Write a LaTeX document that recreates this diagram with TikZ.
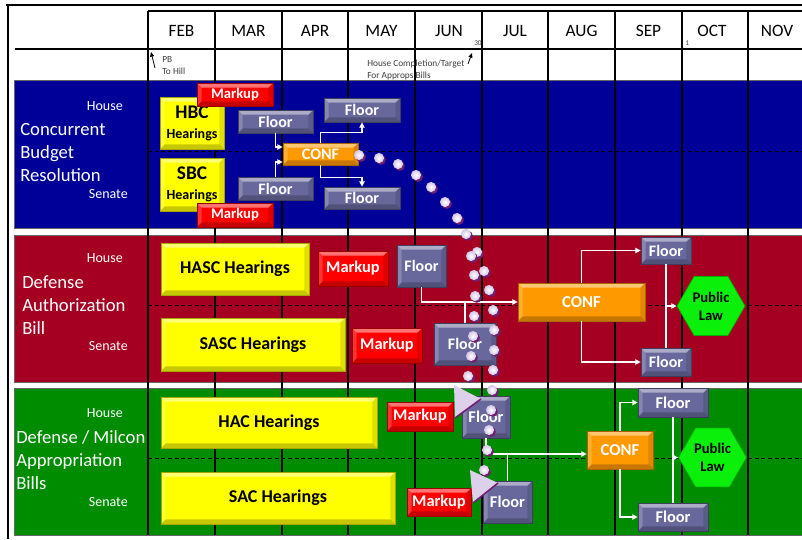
\documentclass[tikz,border=0pt]{standalone}
\usepackage{fontspec}
\setmainfont{Carlito}
\usetikzlibrary{calc,shapes.geometric,arrows.meta}

\definecolor{budgetblue}{RGB}{0,0,153}
\definecolor{authred}{RGB}{165,0,33}
\definecolor{approgreen}{RGB}{0,140,0}
\definecolor{hearyellow}{RGB}{255,255,0}
\definecolor{markred}{RGB}{255,0,0}
\definecolor{floorgray}{RGB}{104,104,156}
\definecolor{conforange}{RGB}{255,153,0}
\definecolor{lawgreen}{RGB}{10,240,10}
\definecolor{dotlav}{RGB}{212,196,230}
\definecolor{dotpurple}{RGB}{112,32,112}
\definecolor{notegray}{RGB}{60,60,60}

\newdimen\pxu \pxu=0.75pt
\newcommand{\bfs}[1]{\fontsize{#1}{#1}\bfseries\selectfont}
\def\trackdot(#1,#2){\fill[dotpurple] (#1+1.8,#2+1.8) circle (3.8pt); \shade[inner color=white, outer color=dotlav] (#1,#2) circle (3.8pt);}

\tikzset{
	bevel/.style={path picture={
		\path (path picture bounding box.north west) coordinate (bnw)
			(path picture bounding box.north east) coordinate (bne)
			(path picture bounding box.south west) coordinate (bsw)
			(path picture bounding box.south east) coordinate (bse);
		\fill[white, opacity=.45] (bnw) -- (bne) -- ([shift={(-3.5pt,-3.5pt)}]bne) -- ([shift={(3.5pt,-3.5pt)}]bnw) -- cycle;
		\fill[white, opacity=.2] (bnw) -- ([shift={(3.5pt,-3.5pt)}]bnw) -- ([shift={(3.5pt,3.5pt)}]bsw) -- (bsw) -- cycle;
		\fill[black, opacity=.22] (bsw) -- ([shift={(3.5pt,3.5pt)}]bsw) -- ([shift={(-3.5pt,3.5pt)}]bse) -- (bse) -- cycle;
		\fill[black, opacity=.12] (bne) -- (bse) -- ([shift={(-3.5pt,3.5pt)}]bse) -- ([shift={(-3.5pt,-3.5pt)}]bne) -- cycle;
	}},
	tbox/.style={rectangle, inner sep=0pt, line width=0.5pt, align=center, bevel},
	hear/.style={tbox, fill=hearyellow, draw=hearyellow!65!black, text=black},
	markup/.style={tbox, fill=markred, draw=markred!60!black, text=white},
	floor/.style={tbox, fill=floorgray, draw=floorgray!60!black, text=white},
	conf/.style={tbox, fill=conforange, draw=conforange!65!black, text=white},
	law/.style={regular polygon, regular polygon sides=6, minimum size=68\pxu, inner sep=0pt,
		fill=lawgreen, draw=lawgreen!70!black, line width=0.5pt, text=black, align=center,
		font=\fontsize{11}{13.5}\bfseries\selectfont},
	grid/.style={draw=black, line width=0.8pt},
	midline/.style={draw=black, line width=0.6pt, dash pattern=on 3pt off 2pt},
	month/.style={font=\fontsize{13}{15}\selectfont},
	bill/.style={anchor=west, align=left, inner sep=0pt, text=white, font=\fontsize{14}{17.25}\selectfont},
	chamber/.style={anchor=east, inner sep=0pt, text=white, font=\fontsize{10.5}{12}\selectfont},
	note/.style={anchor=west, align=left, text=notegray, inner sep=0pt, font=\fontsize{7}{8.5}\selectfont},
	day/.style={note, font=\fontsize{5.5}{6.5}\selectfont},
	flow/.style={draw=white, line width=0.9pt, -{Triangle[length=4pt,width=4pt]}},
	link/.style={draw=white, line width=0.9pt},
	pointer/.style={draw=black, line width=0.6pt, -{Triangle[length=3.5pt,width=3pt]}},
	playtri/.style={fill=dotlav!80!white}
}

\begin{document}
\begin{tikzpicture}[x=0.75pt,y=-0.75pt]
		%%%%% START %%%%%
		\useasboundingbox (0,0) rectangle (802,539);
		
		\draw[line width=1.5pt] (6,4.5) -- (802,4.5);
		\draw[line width=1.5pt] (7.5,4) -- (7.5,539);
		
		% the three bills
		\draw[draw=black!60, fill=budgetblue] (14,80) rectangle (802,228);
		\draw[draw=black!60, fill=authred] (14,235) rectangle (802,382);
		\draw[draw=black!60, fill=approgreen] (14,388) rectangle (802,535);
		
		\draw[midline] (148,151) -- (802,151);
		\draw[midline] (148,305) -- (802,305);
		\draw[midline] (148,458) -- (802,458);
		
		% months
		\draw[grid] (148,11) -- (802,11);
		\draw[grid] (15,49) -- (802,49);
		\draw[grid] (148,11) -- (148,535);
		\draw[grid] (215,11) -- (215,535);
		\draw[grid] (282,11) -- (282,535);
		\draw[grid] (348,11) -- (348,535);
		\draw[grid] (415,11) -- (415,535);
		\draw[grid] (482,11) -- (482,535);
		\draw[grid] (548,11) -- (548,535);
		\draw[grid] (615,11) -- (615,535);
		\draw[grid] (682,11) -- (682,535);
		\draw[grid] (748,11) -- (748,535);
		
		\node[month] (feb) at (181.5,31) {FEB};
		\node[month] (mar) at (248.5,31) {MAR};
		\node[month] (apr) at (315,31) {APR};
		\node[month] (may) at (381.5,31) {MAY};
		\node[month] (jun) at (449,31) {JUN};
		\node[month] (jul) at (515,31) {JUL};
		\node[month] (aug) at (581.5,31) {AUG};
		\node[month] (sep) at (648.5,31) {SEP};
		\node[month] (oct) at (712,31) {OCT};
		\node[month] (nov) at (777,31) {NOV};
		
		\node[day] (day30) at (474,43) {30};
		\node[day] (day1) at (685,43) {1};
		\node[note] (pb) at (162,65.5) {PB\\To Hill};
		\node[note] (target) at (367,70) {House Completion/Target\\For Approps Bills};
		\coordinate (pbtail) at (155,68);
		\coordinate (pbtip) at (151,52);
		\coordinate (targettail) at (468,64);
		\coordinate (targettip) at (472,53);
		\draw[pointer] (pbtail) -- (pbtip);
		\draw[pointer] (targettail) -- (targettip);
		
		% row labels
		\node[bill] (cbr) at (20,153) {Concurrent\\Budget\\Resolution};
		\node[bill] (dab) at (22,305.5) {Defense\\Authorization\\Bill};
		\node[bill] (dma) at (16,460) {Defense / Milcon\\Appropriation\\Bills};
		\node[chamber] (house1) at (123,106) {House};
		\node[chamber] (senate1) at (128,194) {Senate};
		\node[chamber] (house2) at (123,258) {House};
		\node[chamber] (senate2) at (128,346) {Senate};
		\node[chamber] (house3) at (123,413) {House};
		\node[chamber] (senate3) at (128,502) {Senate};
		
		% budget resolution
		\node[hear, minimum width=64\pxu, minimum height=52\pxu] (hbc) at (192,123) {{\bfs{14.5}HBC}\\[3pt]{\bfs{10.5}Hearings}};
		\node[markup, minimum width=76\pxu, minimum height=23\pxu, font=\bfs{11}] (mkh1) at (235,94.5) {Markup};
		\node[floor, minimum width=75\pxu, minimum height=23\pxu, font=\bfs{12}] (flh1) at (275.5,121.5) {Floor};
		\node[floor, minimum width=76\pxu, minimum height=24\pxu, font=\bfs{12}] (flh2) at (362,110) {Floor};
		\node[conf, minimum width=75\pxu, minimum height=22\pxu, font=\bfs{12}] (conf1) at (320.5,154) {CONF};
		\node[hear, minimum width=64\pxu, minimum height=53\pxu] (sbc) at (192,184.5) {{\bfs{14.5}SBC}\\[3pt]{\bfs{10.5}Hearings}};
		\node[floor, minimum width=75\pxu, minimum height=23\pxu, font=\bfs{12}] (fls1) at (275.5,188.5) {Floor};
		\node[markup, minimum width=76\pxu, minimum height=24\pxu, font=\bfs{11}] (mks1) at (235,215) {Markup};
		\node[floor, minimum width=76\pxu, minimum height=22\pxu, font=\bfs{12}] (fls2) at (362,198) {Floor};
		
		\draw[flow] (flh1.south) |- ($(conf1.west)+(0,-7)$);
		\draw[flow] (fls1.north) |- ($(conf1.west)+(0,8)$);
		\draw[flow] (conf1.north) -- ++(0,-10) -| (flh2.south);
		\draw[flow] (conf1.south) -- ++(0,12) -| (fls2.north);
		
		% authorization bill
		\node[hear, minimum width=148\pxu, minimum height=52\pxu, font=\bfs{13.5}] (hasc) at (235,269) {HASC Hearings};
		\node[markup, minimum width=70\pxu, minimum height=35\pxu, font=\bfs{12.3}] (mkh2) at (353,268.5) {Markup};
		\node[floor, minimum width=49\pxu, minimum height=42\pxu, font=\bfs{12}] (flh3) at (421.5,266) {Floor};
		\node[hear, minimum width=184\pxu, minimum height=53\pxu, font=\bfs{13.5}] (sasc) at (253,344.5) {SASC Hearings};
		\node[markup, minimum width=70\pxu, minimum height=35\pxu, font=\bfs{12.3}] (mks2) at (387,345.5) {Markup};
		\node[floor, minimum width=62\pxu, minimum height=42\pxu, font=\bfs{12}] (fls3) at (465,344) {Floor};
		\node[conf, minimum width=127\pxu, minimum height=38\pxu, font=\bfs{12.5}] (conf2) at (581.5,302) {CONF};
		\node[floor, minimum width=50\pxu, minimum height=27\pxu, font=\bfs{12}] (flh4) at (666,250.5) {Floor};
		\node[floor, minimum width=50\pxu, minimum height=28\pxu, font=\bfs{12}] (fls4) at (666,362) {Floor};
		\node[law] (law2) at (711,306) {Public\\Law};
		
		\draw[flow] (flh3.south) |- (conf2.west);
		\draw[link] (fls3.north) -- (fls3.north |- conf2.west);
		\draw[flow] (conf2.north) |- (flh4.west);
		\draw[flow] (conf2.south) |- (fls4.west);
		\draw[link] (flh4.south) -- (fls4.north);
		\draw[flow] (flh4.south |- law2.west) -- (law2.west);
		
		% appropriation bills
		\node[hear, minimum width=216\pxu, minimum height=51\pxu, font=\bfs{13.5}] (hac) at (269,422.5) {HAC Hearings};
		\node[hear, minimum width=234\pxu, minimum height=52\pxu, font=\bfs{13.5}] (sac) at (278,498) {SAC Hearings};
		\node[markup, minimum width=66\pxu, minimum height=29\pxu, font=\bfs{12.3}] (mkh3) at (420,416.5) {Markup};
		\node[floor, minimum width=48\pxu, minimum height=42\pxu, font=\bfs{12.3}] (flh5) at (486,417) {Floor};
		\node[markup, minimum width=64\pxu, minimum height=28\pxu, font=\bfs{12.3}] (mks3) at (439,502) {Markup};
		\node[floor, minimum width=49\pxu, minimum height=42\pxu, font=\bfs{12.3}] (fls5) at (507.5,502) {Floor};
		\node[conf, minimum width=66\pxu, minimum height=38\pxu, font=\bfs{12.5}] (conf3) at (620,450) {CONF};
		\node[floor, minimum width=70\pxu, minimum height=29\pxu, font=\bfs{12.3}] (flh6) at (673,402.5) {Floor};
		\node[floor, minimum width=70\pxu, minimum height=28\pxu, font=\bfs{12.3}] (fls6) at (673,517) {Floor};
		\node[law] (law3) at (712.5,457.5) {Public\\Law};
		
		\coordinate (join3) at ($(conf3.west)+(0,4)$);
		\draw[flow] (flh5.south) |- (join3);
		\draw[link] (fls5.north) -- (fls5.north |- join3);
		\draw[flow] (conf3.north) |- (flh6.west);
		\draw[flow] (conf3.south) |- (fls6.west);
		\draw[link] (flh6.south) -- (fls6.north);
		\draw[flow] (flh6.south |- law3.west) -- (law3.west);
		
		\fill[playtri] (454,385) -- (481,399) -- (455,418) -- cycle;
		\draw[dotpurple, line width=1.2pt] (455,418) -- (481,399);
		\fill[playtri] (470,470) -- (498,483) -- (473,503) -- cycle;
		\draw[dotpurple, line width=1.2pt] (473,503) -- (498,483);
		
		% timeline dots
		\trackdot(359,155) \trackdot(379,158) \trackdot(398,164) \trackdot(416,175)
		\trackdot(431,187) \trackdot(445,202) \trackdot(457,218) \trackdot(466,234)
		\trackdot(477,252) \trackdot(484,271) \trackdot(489,290) \trackdot(493,310)
		\trackdot(494,330) \trackdot(494,350) \trackdot(493,370) \trackdot(492,390)
		\trackdot(491,410) \trackdot(489,430) \trackdot(487,450) \trackdot(484,470)
		\trackdot(471,256) \trackdot(474,275) \trackdot(475,296) \trackdot(474,316)
		\trackdot(473,336) \trackdot(471,356) \trackdot(468,376)
		
		%%%%% END %%%%%
\end{tikzpicture}
\end{document}
